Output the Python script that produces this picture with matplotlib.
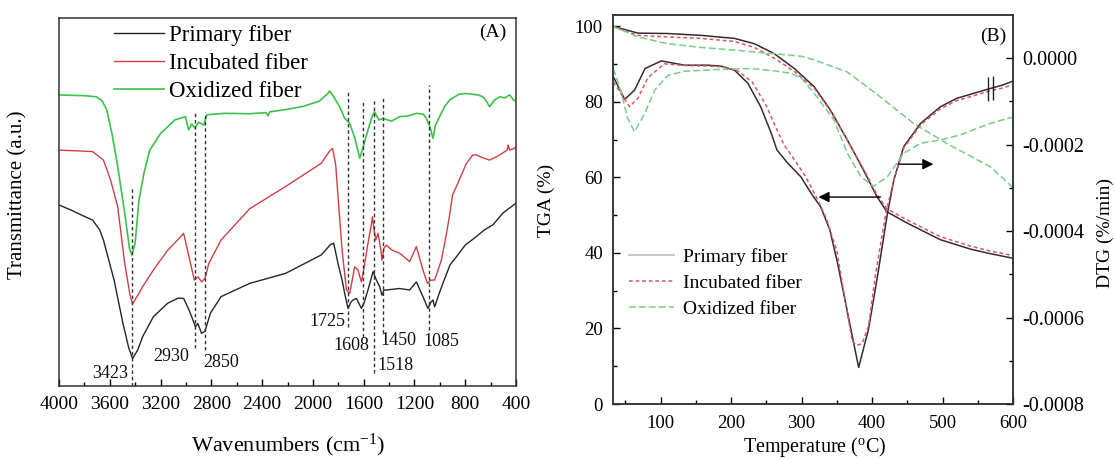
import numpy as np
import matplotlib
matplotlib.use('Agg')
import matplotlib.pyplot as plt
from matplotlib.lines import Line2D
from matplotlib.ticker import MultipleLocator, FixedLocator, FuncFormatter

plt.rcParams['font.family'] = ['Liberation Serif', 'DejaVu Serif']
plt.rcParams['axes.unicode_minus'] = False
plt.rcParams['mathtext.fontset'] = 'custom'
plt.rcParams['mathtext.rm'] = 'Liberation Serif'
plt.rcParams['mathtext.default'] = 'regular'

# ---------------- Panel A: FTIR data ----------------
ox_wn = [4000, 3800, 3707, 3660, 3623, 3580, 3537, 3482, 3445, 3426, 3400, 3370, 3330, 3285,
         3200, 3088, 3004, 2978, 2955, 2930, 2900, 2860, 2835, 2700, 2497, 2370, 2354, 2340,
         2200, 2076, 1950, 1879, 1868, 1840, 1789, 1750, 1710, 1670, 1631, 1600, 1566, 1530,
         1514, 1480, 1448, 1380, 1317, 1250, 1185, 1130, 1106, 1075, 1054, 1035, 1002, 960,
         923, 850, 791, 700, 660, 630, 608, 570, 529, 490, 450, 420, 400]
ox_tr = [79.1, 78.9, 78.6, 77.5, 75.0, 68.1, 59.6, 46.9, 37.5, 35.6, 38.9, 50.5, 58.0, 64.1,
         68.6, 72.3, 73.2, 69.6, 71.2, 70.1, 71.7, 70.9, 73.7, 74.1, 74.0, 74.3, 73.4, 74.5,
         75.2, 76.0, 77.4, 79.6, 80.2, 78.8, 75.9, 72.8, 71.4, 67.4, 61.9, 65.5, 69.6, 73.6,
         74.5, 72.3, 72.7, 72.0, 73.2, 73.4, 74.1, 73.9, 72.7, 70.1, 67.3, 70.9, 73.2, 76.1,
         77.7, 79.3, 79.5, 79.1, 78.6, 77.2, 75.9, 77.7, 78.6, 78.3, 79.1, 77.7, 77.5]

inc_wn = [4000, 3850, 3735, 3650, 3594, 3538, 3482, 3440, 3420, 3380, 3341, 3257, 3144, 3060,
          3018, 2976, 2934, 2906, 2877, 2850, 2820, 2723, 2497, 2216, 1935, 1870, 1845, 1820,
          1800, 1770, 1736, 1710, 1690, 1671, 1645, 1618, 1600, 1566, 1540, 1531, 1518, 1505,
          1487, 1465, 1456, 1440, 1421, 1380, 1317, 1238, 1185, 1133, 1098, 1070, 1041, 988,
          950, 923, 900, 870, 791, 740, 713, 660, 608, 560, 529, 470, 463, 450, 400]
inc_tr = [64.1, 63.9, 63.7, 61.4, 56.0, 48.8, 33.3, 24.6, 22.4, 24.6, 27.0, 31.5, 36.9, 39.9,
          41.5, 35.1, 28.8, 29.7, 28.3, 29.2, 33.3, 39.7, 48.2, 54.2, 60.5, 63.8, 64.6, 60.0,
          50.5, 37.0, 26.1, 25.2, 28.8, 32.4, 31.5, 28.3, 31.5, 38.8, 43.8, 46.0, 42.4, 39.7,
          41.5, 37.0, 34.2, 37.5, 38.3, 37.0, 36.1, 33.8, 37.9, 31.5, 27.9, 28.8, 28.8, 34.2,
          41.0, 46.5, 51.9, 54.2, 60.5, 62.8, 62.8, 62.0, 61.4, 62.2, 62.8, 64.1, 65.5, 64.1, 64.8]

pri_wn = [4000, 3904, 3800, 3735, 3679, 3650, 3566, 3496, 3450, 3420, 3380, 3341, 3257, 3144,
          3060, 3018, 2976, 2925, 2906, 2877, 2850, 2807, 2723, 2497, 2216, 1935, 1860, 1836,
          1802, 1770, 1750, 1723, 1700, 1683, 1657, 1618, 1595, 1566, 1526, 1500, 1474, 1456,
          1440, 1421, 1317, 1238, 1185, 1133, 1094, 1070, 1054, 1041, 1010, 976, 920, 870,
          800, 713, 650, 582, 503, 450, 400]
pri_tr = [49.2, 47.8, 46.1, 45.1, 42.4, 39.7, 28.8, 17.0, 10.3, 7.5, 9.8, 13.4, 18.8, 22.5,
          23.9, 23.8, 20.7, 16.1, 17.0, 14.3, 14.9, 19.8, 24.3, 27.9, 30.6, 35.6, 38.5, 38.8,
          33.3, 28.8, 25.2, 21.1, 22.8, 23.4, 23.8, 21.1, 22.8, 26.1, 31.1, 28.8, 27.0, 24.7,
          26.1, 26.1, 26.5, 26.1, 28.3, 24.3, 21.1, 22.8, 23.4, 21.5, 24.7, 27.9, 32.9, 35.1,
          38.3, 40.6, 42.4, 43.8, 47.0, 48.4, 49.7]

peak_wn = [3423, 2930, 2850, 1725, 1608, 1518, 1450, 1085]
peak_line_top = [54.2, 74.5, 74.5, 80.0, 77.3, 77.7, 78.6, 81.8]
peak_line_bottom = [0.0, 10.2, 9.8, 16.1, 13.4, 3.5, 14.3, 15.2]
peak_text = ['3423', '2930', '2850', '1725', '1608', '1518', '1450', '1085']
peak_text_x = [3600, 3114, 2726, 1887, 1695, 1350, 1326, 992]
peak_text_y = [3.5, 7.9, 6.5, 17.5, 11.1, 5.7, 12.5, 12.0]

# ---------------- Panel B: TGA / DTG data ----------------
tga_T = [32, 68, 110, 158, 205, 233, 261, 290, 318, 341, 365, 388, 407, 421, 450, 497, 540, 568, 600]
tga_primary = [100, 98.2, 98.1, 97.6, 96.8, 95.4, 92.8, 88.8, 84.0, 77.8, 69.9, 61.9, 54.9, 50.9,
               47.9, 43.5, 41.0, 39.8, 38.6]
tga_incubated = [100, 97.6, 97.2, 96.8, 96.0, 94.4, 91.6, 88.0, 83.6, 77.6, 69.8, 62.2, 55.5, 51.7,
                 48.7, 44.3, 41.8, 40.5, 39.3]
tga_ox_T = [32, 68, 110, 158, 205, 252, 299, 318, 365, 412, 459, 506, 568, 600]
tga_oxidized = [100, 97.2, 95.4, 94.4, 93.7, 92.9, 92.1, 91.1, 87.9, 81.3, 74.3, 69.0, 62.8, 57.3]

dtg_T = [33, 49, 63, 78, 101, 134, 167, 186, 205, 224, 242, 257, 265, 280, 299, 315, 327, 340,
         351, 370, 381, 395, 407, 422, 431, 445, 469, 497, 520, 544, 568, 585, 600]
dtg_primary = [-0.0000431, -0.0000952, -0.0000738, -0.0000237, -0.0000062, -0.0000161, -0.0000161,
               -0.0000184, -0.0000277, -0.0000583, -0.0001123, -0.0001736, -0.0002121, -0.0002421,
               -0.0002744, -0.0003159, -0.0003435, -0.0003965, -0.0004733, -0.0006271, -0.0007154,
               -0.0006271, -0.0005118, -0.0003580, -0.0002813, -0.0002045, -0.0001506, -0.0001123,
               -0.0000929, -0.0000814, -0.0000699, -0.0000622, -0.0000530]
dtg_inc_T = [33, 45, 56, 68, 82, 105, 135, 167, 190, 210, 230, 250, 265, 275, 290, 305, 320, 335,
             350, 365, 372, 378, 386, 395, 405, 420, 432, 445, 469, 497, 520, 544, 568, 585, 600]
dtg_incubated = [-0.0000550, -0.0000850, -0.0001120, -0.0000920, -0.0000450, -0.0000130, -0.0000170,
                 -0.0000180, -0.0000200, -0.0000300, -0.0000550, -0.0001100, -0.0001650, -0.0002000,
                 -0.0002350, -0.0002720, -0.0003180, -0.0003700, -0.0004450, -0.0005900, -0.0006550,
                 -0.0006650, -0.0006600, -0.0006200, -0.0005000, -0.0003550, -0.0002750, -0.0002080,
                 -0.0001540, -0.0001170, -0.0000980, -0.0000870, -0.0000750, -0.0000690, -0.0000610]
dtg_ox_T = [33, 44.5, 53, 63, 77.5, 91.6, 110.5, 134, 181, 228, 266, 285, 299, 318, 346, 365, 384,
            402, 422, 445, 469, 497, 525, 568, 600]
dtg_oxidized = [-0.0000237, -0.0000814, -0.0001383, -0.0001699, -0.0001275, -0.0000738, -0.0000392,
                -0.0000300, -0.0000261, -0.0000237, -0.0000300, -0.0000350, -0.0000450, -0.0000814,
                -0.0001429, -0.0002197, -0.0002737, -0.0002967, -0.0002737, -0.0002197, -0.0001967,
                -0.0001891, -0.0001775, -0.0001506, -0.0001360]
break_T = [565, 572]

# arrows (TGA axis coordinates): tail -> head
arrow_left = [(412, 54.8), (324, 54.8)]
arrow_right = [(437, 63.5), (487, 63.5)]

labels = ['Primary fiber', 'Incubated fiber', 'Oxidized fiber']

# ---------------- Figure ----------------
fig = plt.figure(figsize=(11.15, 4.59), dpi=100)
axA = fig.add_axes([0.0529, 0.1590, 0.4099, 0.8017])
axB = fig.add_axes([0.5495, 0.1198, 0.3590, 0.8475])

cA_pri, cA_inc, cA_ox = '#262626', '#cf3f45', '#3cc24a'
axA.plot(pri_wn, pri_tr, color=cA_pri, lw=1.0, label=labels[0])
axA.plot(inc_wn, inc_tr, color=cA_inc, lw=1.0, label=labels[1])
axA.plot(ox_wn, ox_tr, color=cA_ox, lw=1.2, label=labels[2])
for w, t, b in zip(peak_wn, peak_line_top, peak_line_bottom):
    axA.plot([w, w], [b, t], color='#333333', lw=1.0, ls=(0, (2.5, 2.0)))
for s, x, y in zip(peak_text, peak_text_x, peak_text_y):
    axA.text(x, y, s, ha='center', va='center', fontsize=13, color='#111111')

axA.set_xlim(4000, 400)
axA.set_ylim(0, 100)
axA.set_yticks([])
axA.xaxis.set_major_locator(MultipleLocator(400))
axA.xaxis.set_minor_locator(MultipleLocator(200))
axA.tick_params(axis='x', which='both', direction='in', labelsize=14, pad=7)
axA.tick_params(axis='x', which='major', length=5, width=1)
axA.tick_params(axis='x', which='minor', length=3, width=1)
for sp in axA.spines.values():
    sp.set_linewidth(1.1)
    sp.set_color('#333333')
axA.set_xlabel('Wavenumbers (cm$^{-1}$)', fontsize=16)
axA.xaxis.set_label_coords(0.501, -0.125)
axA.set_ylabel('Transmittance (a.u.)', fontsize=15)
axA.yaxis.set_label_coords(-0.068, 0.52)
axA.text(0.95, 0.96, '(A)', transform=axA.transAxes, ha='center', va='center', fontsize=14)
axA.legend(loc='upper left', bbox_to_anchor=(0.12, 0.982), frameon=False, fontsize=16.5,
           handlelength=2.2, handletextpad=0.2, labelspacing=0.3, borderpad=0, borderaxespad=0)

# Panel B
cB_pri, cB_inc, cB_ox = '#3a2a2d', '#d25a68', '#7acc86'
ls_inc = (0, (2.5, 1.8))
ls_ox = (0, (4.5, 2.0))
axB.plot(tga_T, tga_primary, color=cB_pri, lw=1.1)
axB.plot(tga_T, tga_incubated, color=cB_inc, lw=1.1, ls=ls_inc)
axB.plot(tga_ox_T, tga_oxidized, color=cB_ox, lw=1.1, ls=ls_ox)
axB.set_xlim(32, 600)
axB.set_ylim(0, 103)
axB.xaxis.set_major_locator(MultipleLocator(100))
axB.xaxis.set_minor_locator(MultipleLocator(50))
axB.yaxis.set_major_locator(MultipleLocator(20))
axB.yaxis.set_minor_locator(MultipleLocator(10))
axB.tick_params(axis='both', which='both', direction='in', labelsize=13.5)
axB.tick_params(axis='x', which='both', pad=8)
axB.tick_params(axis='y', which='both', pad=7)
axB.tick_params(which='major', length=5, width=1)
axB.tick_params(which='minor', length=3, width=1)

ax2 = axB.twinx()
ax2.plot(dtg_T, dtg_primary, color=cB_pri, lw=1.1)
ax2.plot(dtg_inc_T, dtg_incubated, color=cB_inc, lw=1.1, ls=ls_inc)
ax2.plot(dtg_ox_T, dtg_oxidized, color=cB_ox, lw=1.1, ls=ls_ox)
ax2.plot(break_T, np.interp(break_T, dtg_T, dtg_primary), ls='none', marker='|',
         ms=17, mew=1.0, color='#222222')
ax2.set_ylim(-0.0008, 0.0001)
ax2.yaxis.set_major_locator(FixedLocator([-0.0008, -0.0006, -0.0004, -0.0002, 0.0]))
ax2.yaxis.set_minor_locator(FixedLocator([-0.0007, -0.0005, -0.0003, -0.0001]))
ax2.yaxis.set_major_formatter(FuncFormatter(lambda v, p: '%.4f' % v if abs(v) > 1e-9 else '0.0000'))
ax2.tick_params(axis='y', which='both', direction='in', labelsize=14.5, pad=6.5)
ax2.tick_params(which='major', length=5, width=1)
ax2.tick_params(which='minor', length=3, width=1)
for a in (axB, ax2):
    for sp in a.spines.values():
        sp.set_linewidth(1.1)
        sp.set_color('#333333')

for (tail, head) in (arrow_left, arrow_right):
    axB.annotate('', xy=head, xytext=tail,
                 arrowprops=dict(arrowstyle='-|>', color='black', lw=1.0, mutation_scale=16,
                                 shrinkA=0, shrinkB=0))

axB.set_xlabel('Temperature ($^{o}$C)', fontsize=14.5)
axB.xaxis.set_label_coords(0.505, -0.08)
axB.set_ylabel('TGA (%)', fontsize=14)
axB.yaxis.set_label_coords(-0.144, 0.524)
ax2.set_ylabel('DTG (%/min)', fontsize=14)
ax2.yaxis.set_label_coords(1.21, 0.44)
axB.text(0.95, 0.944, '(B)', transform=axB.transAxes, ha='center', va='center', fontsize=14)

handles = [Line2D([], [], color='#bdbdbd', lw=1.2),
           Line2D([], [], color=cB_inc, lw=1.1, ls=ls_inc),
           Line2D([], [], color=cB_ox, lw=1.1, ls=ls_ox)]
ax2.legend(handles, labels, loc='upper left', bbox_to_anchor=(0.041, 0.40), frameon=False,
           fontsize=14, handlelength=2.3, handletextpad=0.45, labelspacing=0.42, borderpad=0,
           borderaxespad=0)

fig.savefig('out.png', dpi=100)
